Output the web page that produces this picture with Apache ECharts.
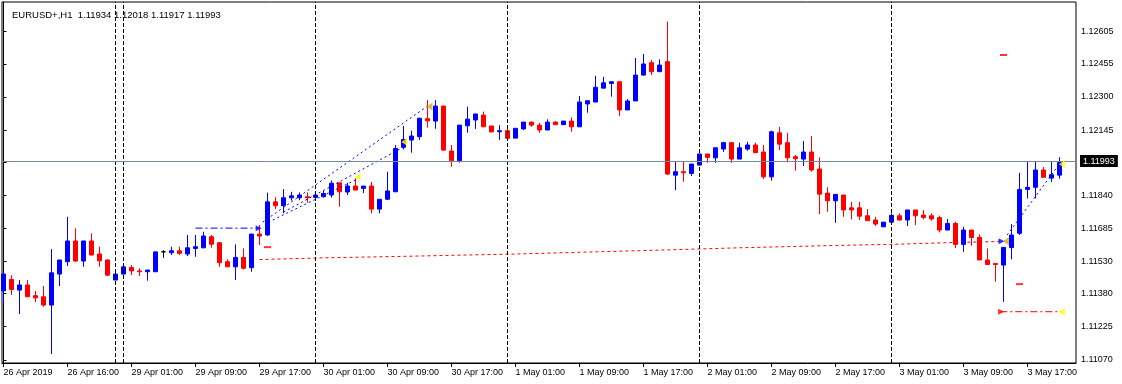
<!DOCTYPE html>
<html><head><meta charset="utf-8">
<script src="https://cdn.jsdelivr.net/npm/echarts@6/dist/echarts.min.js"></script>
<style>html,body{margin:0;padding:0;background:#fff}#c{width:1122px;height:384px}</style>
</head><body><div id="c"></div>
<script>
// ---- data (bar index = hour since 26 Apr 2019 08:00, trading hours only) ----
const opens = [1.11393,1.11446,1.11396,1.11420,1.11370,1.11365,1.11326,1.11471,1.11529,1.11626,
1.11532,1.11626,1.11565,1.11537,1.11443,1.11471,1.11502,1.11486,1.11482,1.11482,
1.11575,1.11571,1.11580,1.11565,1.11591,1.11594,1.11646,1.11618,1.11529,1.11505,
1.11549,1.11501,1.11658,1.11654,1.11809,1.11791,1.11828,1.11828,1.11833,1.11830,
1.11833,1.11841,1.11898,1.11855,1.11883,1.11872,1.11883,1.11775,1.11821,1.11856,
1.12064,1.12098,1.12114,1.12198,1.12187,1.12257,1.12047,1.12001,1.12165,1.12192,
1.12215,1.12164,1.12137,1.12142,1.12107,1.12150,1.12182,1.12168,1.12145,1.12182,
1.12170,1.12187,1.12160,1.12267,1.12276,1.12341,1.12363,1.12371,1.12239,1.12281,
1.12402,1.12460,1.12418,1.12465,1.11934,1.11950,1.11942,1.11981,1.12033,1.12015,
1.12056,1.12086,1.12009,1.12056,1.12075,1.12042,1.11926,1.12132,1.12086,1.12020,
1.12009,1.12042,1.11963,1.11850,1.11814,1.11841,1.11781,1.11781,1.11744,1.11724,
1.11692,1.11714,1.11744,1.11724,1.11771,1.11747,1.11744,1.11735,1.11677,1.11708,
1.11610,1.11677,1.11643,1.11537,1.11521,1.11513,1.11595,1.11662,1.11867,1.11877,
1.11958,1.11920,1.11934];
const highs = [1.11476,1.11466,1.11443,1.11443,1.11392,1.11415,1.11588,1.11537,1.11739,1.11685,
1.11626,1.11662,1.11599,1.11540,1.11490,1.11505,1.11513,1.11498,1.11490,1.11575,
1.11583,1.11599,1.11599,1.11654,1.11654,1.11669,1.11654,1.11618,1.11540,1.11610,
1.11591,1.11660,1.11700,1.11852,1.11831,1.11869,1.11856,1.11853,1.11853,1.11849,
1.11861,1.11909,1.11898,1.11898,1.11919,1.11883,1.11902,1.11821,1.11950,1.12075,
1.12164,1.12142,1.12203,1.12285,1.12285,1.12260,1.12075,1.12168,1.12254,1.12222,
1.12231,1.12164,1.12168,1.12153,1.12153,1.12182,1.12185,1.12179,1.12195,1.12187,
1.12187,1.12204,1.12304,1.12282,1.12399,1.12394,1.12371,1.12371,1.12290,1.12482,
1.12501,1.12473,1.12476,1.12652,1.12000,1.11997,1.11986,1.12033,1.12033,1.12062,
1.12090,1.12086,1.12086,1.12090,1.12086,1.12075,1.12142,1.12160,1.12132,1.12028,
1.12094,1.12117,1.12017,1.11877,1.11844,1.11841,1.11809,1.11809,1.11775,1.11739,
1.11714,1.11755,1.11755,1.11771,1.11771,1.11771,1.11755,1.11744,1.11729,1.11716,
1.11692,1.11677,1.11657,1.11591,1.11521,1.11598,1.11705,1.11945,1.11995,1.12000,
1.11972,1.12000,1.12018];
const lows = [1.11337,1.11373,1.11284,1.11363,1.11340,1.11318,1.11097,1.11415,1.11509,1.11527,
1.11505,1.11560,1.11505,1.11462,1.11443,1.11471,1.11466,1.11462,1.11440,1.11482,
1.11547,1.11560,1.11560,1.11555,1.11552,1.11592,1.11594,1.11505,1.11505,1.11443,
1.11493,1.11482,1.11607,1.11649,1.11775,1.11755,1.11815,1.11817,1.11805,1.11825,
1.11829,1.11829,1.11786,1.11841,1.11864,1.11850,1.11755,1.11755,1.11819,1.11855,
1.12054,1.12039,1.12098,1.12156,1.12151,1.12048,1.11973,1.11992,1.12132,1.12150,
1.12160,1.12136,1.12098,1.12106,1.12107,1.12145,1.12160,1.12132,1.12145,1.12170,
1.12170,1.12137,1.12159,1.12226,1.12276,1.12341,1.12301,1.12210,1.12239,1.12281,
1.12398,1.12402,1.12418,1.11934,1.11864,1.11903,1.11930,1.11981,1.11992,1.11992,
1.12043,1.11992,1.12009,1.12048,1.12039,1.11916,1.11908,1.12051,1.11994,1.11955,
1.11977,1.11950,1.11752,1.11763,1.11711,1.11739,1.11727,1.11724,1.11721,1.11696,
1.11692,1.11714,1.11721,1.11696,1.11700,1.11727,1.11721,1.11666,1.11677,1.11593,
1.11575,1.11604,1.11537,1.11513,1.11435,1.11341,1.11540,1.11654,1.11825,1.11825,
1.11924,1.11902,1.11917];
const closes = [1.11471,1.11399,1.11420,1.11365,1.11360,1.11326,1.11477,1.11537,1.11626,1.11532,
1.11626,1.11560,1.11533,1.11466,1.11471,1.11505,1.11486,1.11482,1.11490,1.11575,
1.11575,1.11580,1.11568,1.11594,1.11599,1.11649,1.11611,1.11524,1.11505,1.11549,
1.11498,1.11658,1.11649,1.11809,1.11791,1.11828,1.11837,1.11841,1.11828,1.11841,
1.11848,1.11896,1.11856,1.11883,1.11864,1.11883,1.11775,1.11821,1.11860,1.12059,
1.12101,1.12117,1.12200,1.12188,1.12257,1.12051,1.12001,1.12168,1.12196,1.12220,
1.12160,1.12136,1.12142,1.12106,1.12153,1.12182,1.12168,1.12145,1.12182,1.12170,
1.12187,1.12160,1.12276,1.12282,1.12345,1.12366,1.12371,1.12239,1.12281,1.12402,
1.12454,1.12418,1.12449,1.11939,1.11950,1.11945,1.11986,1.12033,1.12017,1.12062,
1.12086,1.12009,1.12062,1.12075,1.12039,1.11926,1.12137,1.12079,1.12015,1.12011,
1.12042,1.11958,1.11845,1.11814,1.11844,1.11771,1.11771,1.11742,1.11721,1.11705,
1.11714,1.11746,1.11724,1.11771,1.11744,1.11736,1.11729,1.11677,1.11708,1.11610,
1.11677,1.11642,1.11537,1.11516,1.11516,1.11596,1.11654,1.11867,1.11877,1.11958,
1.11924,1.11936,1.11993];

const xTickBars = [0,8,16,24,32,40,48,56,64,72,80,88,96,104,112,120,128];
const xTickLabels = ['26 Apr 2019','26 Apr 16:00','29 Apr 01:00','29 Apr 09:00','29 Apr 17:00',
  '30 Apr 01:00','30 Apr 09:00','30 Apr 17:00','1 May 01:00','1 May 09:00','1 May 17:00',
  '2 May 01:00','2 May 09:00','2 May 17:00','3 May 01:00','3 May 09:00','3 May 17:00'];
const yTickLabels = [1.12605,1.12455,1.12300,1.12145,1.11840,1.11685,1.11530,1.11380,1.11225,1.11070];
const yTickMarks = [1.12605,1.12455,1.12300,1.12145,1.11993,1.11840,1.11685,1.11530,1.11380,1.11225,1.11070];
const separatorBars = [14,15,39,63,87,111];
const lastPrice = 1.11993;
const titleText = 'EURUSD+,H1  1.11934 1.12018 1.11917 1.11993';

// indicator objects
const maBars = [32,40,50,64,80,92,104,112,118,124,124.6];
const maValues = [1.11539,1.11547,1.11554,1.11565,1.11581,1.11594,1.11605,1.11611,1.11618,1.11623,1.11625];
const trendLines = [
  [[32.4,1.11714],[53,1.12257]],
  [[35,1.11761],[50,1.12065]],
  [[33.1,1.11714],[44.25,1.11916]],
  [[125.46,1.11654],[132.1,1.11992]]
];
const blueLevel = [[24,1.11686],[31.9,1.11686]];
const redLevel = [[124.6,1.11295],[132.2,1.11295]];
const yellowTri = [[44.25,1.11925],[50.1,1.12089],[132.3,1.11985],[132.3,1.11295]];
const goldTri = [[53.25,1.12255],[125.3,1.11625]];
const blueArrows = [[31.9,1.11686],[124.75,1.11625]];
const redArrows = [[124.7,1.11295]];
const redDashes = [[33,1.11597],[127,1.11424],[125,1.12496]];

const FONT = 'Liberation Sans';
const candles = opens.map((o,i)=>[i,o,closes[i],lows[i],highs[i]]);

const series = [];
series.push({
  type:'line', data: maBars.map((b,i)=>[b,maValues[i]]), symbol:'none', silent:true, z:2,
  lineStyle:{color:'#ff0000', width:1, type:[3,3]},
  markLine:{ symbol:['none','none'], silent:true, animation:false,
    lineStyle:{color:'#000', width:1, type:[4,2]}, label:{show:false},
    data: separatorBars.map(b=>({xAxis:b})) }
});
series.push({
  type:'candlestick', data: candles, encode:{x:0, y:[1,2,3,4]}, barWidth:4, z:3,
  itemStyle:{color:'#0000ff', color0:'#ff0000', borderColor:'#0000ff', borderColor0:'#ff0000', borderColorDoji:'#000000', borderWidth:1},
  markLine:{ symbol:['none','none'], silent:true, animation:false,
    lineStyle:{color:'#778899', width:1, type:'solid'},
    label:{show:true, position:'end', distance:4, formatter:()=>lastPrice.toFixed(5),
      backgroundColor:'#000', color:'#fff', fontSize:9, fontFamily:FONT, padding:[2,3,1,3]},
    data:[{yAxis:lastPrice}] }
});
trendLines.forEach(seg=>series.push({type:'line', data:seg, symbol:'none', silent:true, z:4,
  lineStyle:{color:'#0000ff', width:1, type:[2,3]}}));
series.push({type:'line', data:blueLevel, symbol:'none', silent:true, z:4, lineStyle:{color:'#0000ff', width:1, type:[7,3,2,3]}});
series.push({type:'line', data:redLevel, symbol:'none', silent:true, z:4, lineStyle:{color:'#ff0000', width:1, type:[7,3,2,3]}});
series.push({type:'scatter', data:yellowTri, symbol:'triangle', symbolSize:[8,6], symbolRotate:90, z:5, silent:true, itemStyle:{color:'#ffff00'}});
series.push({type:'scatter', data:goldTri, symbol:'triangle', symbolSize:[8,6], symbolRotate:90, z:5, silent:true, itemStyle:{color:'#daa520'}});
series.push({type:'scatter', data:blueArrows, symbol:'triangle', symbolSize:[6,6], symbolRotate:-90, z:5, silent:true, itemStyle:{color:'#0000ff'}});
series.push({type:'scatter', data:redArrows, symbol:'triangle', symbolSize:[6,6], symbolRotate:-90, z:5, silent:true, itemStyle:{color:'#ff0000'}});
series.push({type:'scatter', data:redDashes, symbol:'rect', symbolSize:[7,2], z:5, silent:true, itemStyle:{color:'#ff0000'}});

const chart = echarts.init(document.getElementById('c'), null, {renderer:'canvas'});
chart.setOption({
  animation:false,
  backgroundColor:'#fff',
  title:{text:titleText, left:7, top:5, textStyle:{fontSize:9.5, fontWeight:'normal', color:'#000', fontFamily:FONT}},
  grid:{left:2, right:46, top:2, bottom:21, show:true, borderColor:'#000', borderWidth:1, backgroundColor:'#fff'},
  xAxis:{type:'value', min:-0.1875, max:134.0625, position:'bottom',
    axisLine:{show:true, lineStyle:{color:'#000'}}, splitLine:{show:false},
    axisTick:{show:true, customValues:xTickBars, length:4, lineStyle:{color:'#000'}},
    axisLabel:{customValues:xTickBars, formatter:v=>xTickLabels[xTickBars.indexOf(v)], align:'left', margin:5,
      fontSize:9, color:'#000', fontFamily:FONT}},
  yAxis:{type:'value', position:'right', min:1.11055, max:1.12744, scale:true,
    axisLine:{show:true, lineStyle:{color:'#000'}}, splitLine:{show:false},
    axisTick:{show:true, customValues:yTickMarks, length:3, lineStyle:{color:'#000'}},
    axisLabel:{customValues:yTickLabels, formatter:v=>v.toFixed(5), margin:5, fontSize:9, color:'#000', fontFamily:FONT}},
  series: series
});
</script></body></html>
